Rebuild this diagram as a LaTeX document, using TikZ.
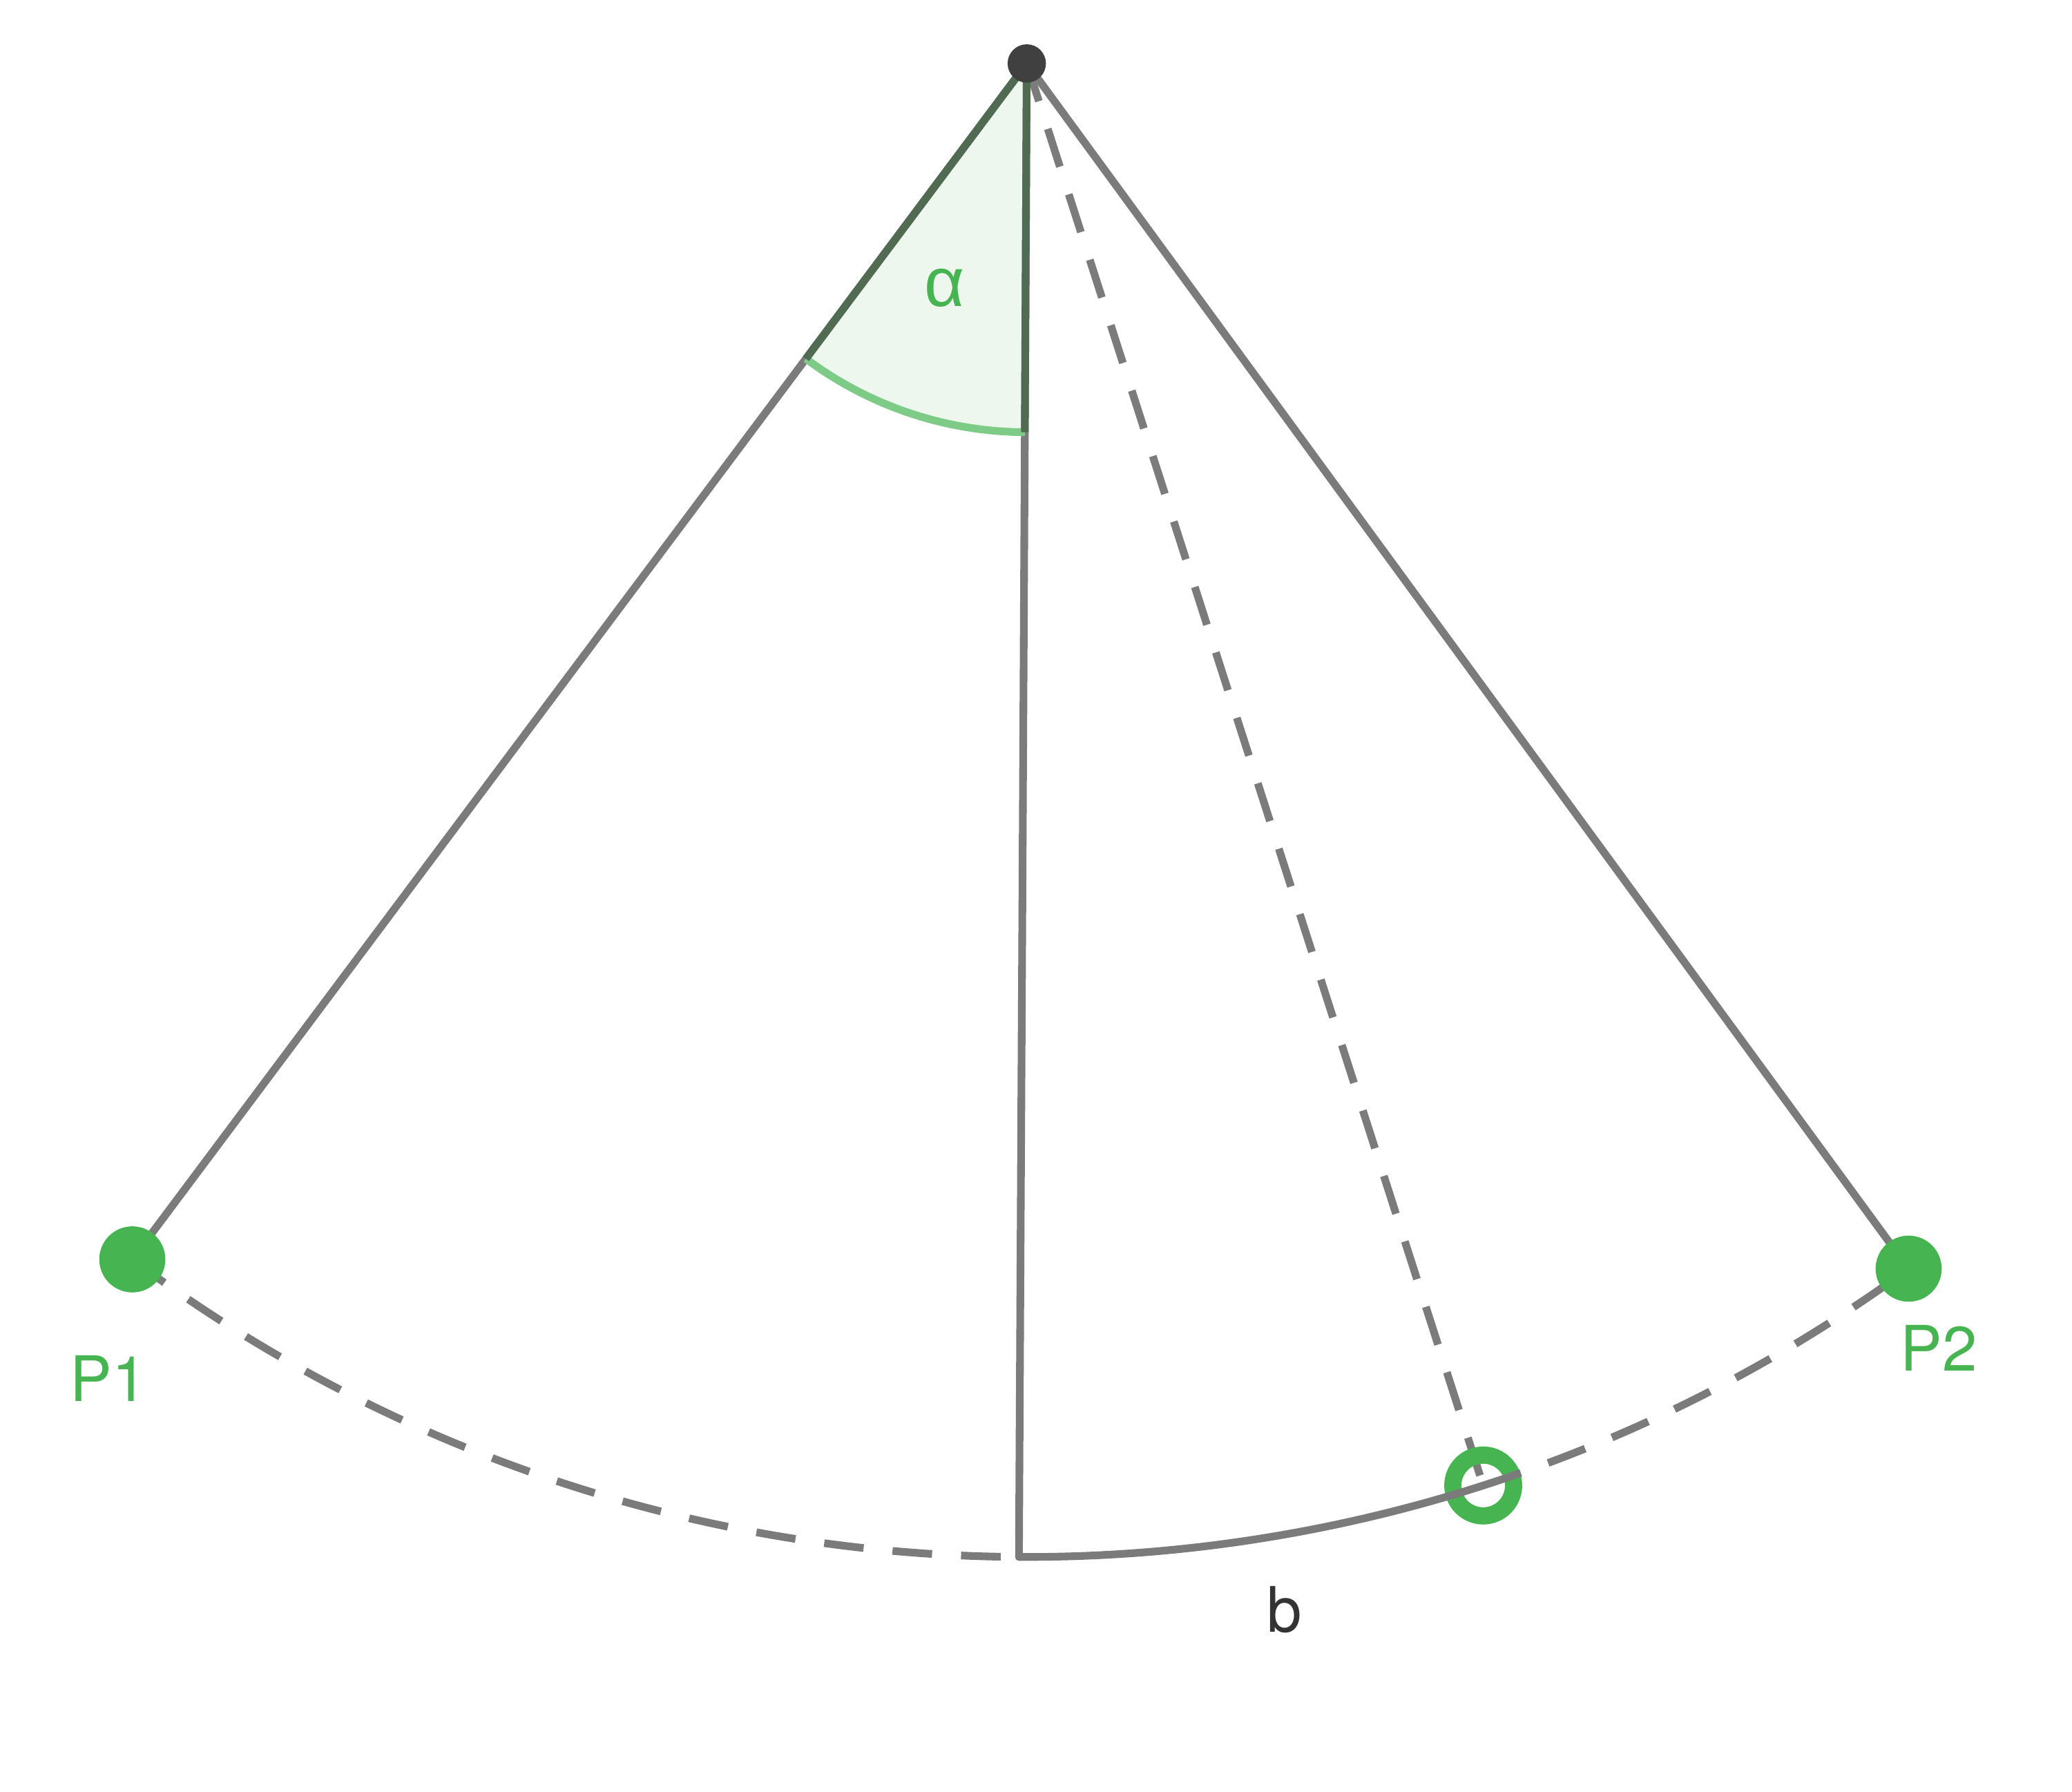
\documentclass[tikz,border=0pt]{standalone}
\usepackage{fontspec}
\setmainfont{TeX Gyre Heros}
\newfontfamily\alphafont{Liberation Sans}
\usetikzlibrary{calc}
\definecolor{linegray}{HTML}{7B7B7B}
\definecolor{dotdark}{HTML}{404040}
\definecolor{ptgreen}{HTML}{46B450}
\definecolor{sectorfill}{HTML}{EDF7EE}
\definecolor{arcgreen}{HTML}{7DCB87}
\definecolor{edgegreen}{HTML}{506B52}
\definecolor{textdark}{HTML}{333333}

\begin{document}
\begin{tikzpicture}[
 line/.style={
      draw=linegray,
      line width=0.058cm,
      line cap=round
   },
 dashline/.style={
      draw=linegray,
      line width=0.058cm,
      dash pattern=on 0.3cm off 0.22cm
   },
 pt/.style={
      circle,
      fill=ptgreen,
      minimum size=0.5cm,
      inner sep=0pt
   },
 lbl/.style={
      font=\fontsize{13.5}{15}\selectfont
   }
 ]
 \useasboundingbox (0,0) rectangle (15.68,-13.553);

 %závěs a body na kružnici
 \coordinate (apex) at (7.77,-0.48);
 \coordinate (p1) at ($(apex)+(233.2:11.3)$);
 \coordinate (p2) at ($(apex)+(306.2:11.3)$);
 \coordinate (bot) at ($(apex)+(269.7:11.3)$);
 \coordinate (q) at ($(apex)+(287.8:11.3)$);
 \coordinate (a1) at ($(apex)+(233.2:2.79)$);
 \coordinate (a2) at ($(apex)+(269.7:2.79)$);

 %úhel
 \fill[sectorfill] (apex) -- (a1) arc[start angle=233.2, end angle=269.7, radius=2.79] -- cycle;

 %ramena
 \draw[line] (apex) -- (p1);
 \draw[line] (apex) -- (p2);
 \draw[line] (apex) -- (bot);
 \draw[dashline] (apex) -- (q);

 %okraje úhlu
 \draw[arcgreen, line width=0.058cm] (a1) arc[start angle=233.2, end angle=269.7, radius=2.79];
 \draw[edgegreen, line width=0.058cm] (apex) -- (a1);
 \draw[edgegreen, line width=0.058cm] (apex) -- (a2);

 %oblouky
 \node[circle, draw=ptgreen, line width=0.13cm, minimum size=0.46cm, inner sep=0pt] (qring) at (q) {};
 \draw[dashline] (p1) arc[start angle=233.2, end angle=269.7, radius=11.3];
 \draw[line] (bot) arc[start angle=269.7, end angle=287.8, radius=11.3];
 \draw[dashline] (q) arc[start angle=287.8, end angle=306.2, radius=11.3];

 %body
 \node[circle, fill=dotdark, minimum size=0.29cm, inner sep=0pt] (apexdot) at (apex) {};
 \node[pt] (p1dot) at (p1) {};
 \node[pt] (p2dot) at (p2) {};

 %popisky
 \node[lbl, text=ptgreen, font=\fontsize{15}{17}\alphafont] (alpha) at ($(apex)+(-0.62,-1.70)$) {α};
 \node[lbl, text=ptgreen] (p1lbl) at ($(p1)+(-0.18,-0.90)$) {P1};
 \node[lbl, text=ptgreen] (p2lbl) at ($(p2)+(0.23,-0.60)$) {P2};
 \node[lbl, text=textdark] (blbl) at ($(bot)+(2.01,-0.40)$) {b};
\end{tikzpicture}
\end{document}
